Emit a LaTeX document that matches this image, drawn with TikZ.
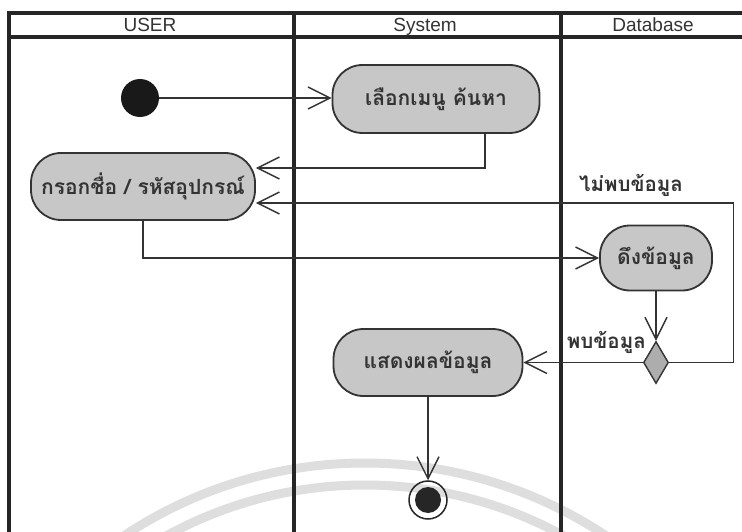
\documentclass[tikz,border=0pt]{standalone}
\usepackage{fontspec}
\setmainfont{Liberation Sans}
\newfontfamily\thaifont[Script=Thai]{Loma}
\usetikzlibrary{arrows.meta,shapes.geometric}

\begin{document}
\begin{tikzpicture}[x=1pt,y=-1pt,
  lane/.style={draw=black!85, line width=3.2pt},
  head/.style={font=\fontsize{19}{21}\selectfont, text=black!80, anchor=base},
  act/.style={draw=black!80, line width=1.8pt, fill=black!22, rounded corners=30pt,
    inner sep=0pt, font=\thaifont\bfseries\fontsize{21}{23}\selectfont, text=black!80},
  lbl/.style={font=\thaifont\bfseries\fontsize{20.5}{22}\selectfont, text=black!80, inner sep=1pt},
  flow/.style={draw=black!80, line width=1.4pt,
    -{Straight Barb[length=22pt,width=22pt,line width=1.4pt]}},
  seal/.style={draw=black!13, line width=9pt}]

\useasboundingbox (0,0) rectangle (742,532);
\fill[white] (0,0) rectangle (742,532);

% faint seal rings printed across the lower part of the page
\begin{scope}
  \clip (0,0) rectangle (742,532);
  \draw[seal] (365,898) circle[radius=435];
  \draw[seal] (365,898) circle[radius=413];
\end{scope}

% swimlane frame
\draw[lane] (742,13) -- (9,13) -- (9,532);
\draw[lane] (9,37) -- (742,37);
\draw[lane] (294,13) -- (294,532);
\draw[lane] (561,13) -- (561,532);
\node[head] (hUser) at (150,32) {USER};
\node[head] (hSys)  at (425,32) {System};
\node[head] (hDb)   at (653,32) {Database};

% activities
\node[circle, fill=black!90, minimum size=38pt, inner sep=0pt] (start) at (140,98) {};
\node[act, minimum width=207pt, minimum height=68pt] (sel) at (436,99) {เลือกเมนู ค้นหา};
\node[act, minimum width=224pt, minimum height=67pt] (inp) at (143,186.5) {กรอกชื่อ / รหัสอุปกรณ์};
\node[act, minimum width=112pt, minimum height=65pt] (fetch) at (656,258) {ดึงข้อมูล};
\node[diamond, draw=black!80, line width=1.4pt, fill=black!32, inner sep=0pt,
      minimum width=25pt, minimum height=42pt] (dec) at (656,362.5) {};
\node[act, minimum width=189pt, minimum height=67pt] (show) at (428,362.5) {แสดงผลข้อมูล};
\node[circle, draw=black!85, line width=1.5pt, minimum size=38pt, inner sep=0pt] (end) at (428,500) {};
\node[circle, fill=black!85, minimum size=26pt, inner sep=0pt] (endDot) at (end) {};

% control flow
\draw[flow] (start) -- (start -| sel.west);
\draw[flow] ([xshift=49pt]sel.south) |- ([yshift=18.5pt]inp.east);
\draw[flow] (dec.east) -- ++(64,0) |- ([yshift=-16.5pt]inp.east);
\draw[flow] (inp.south) |- (fetch.west);
\draw[flow] (fetch.south) -- (dec.north);
\draw[flow] (dec.west) -- (show.east);
\draw[flow] (show.south) -- (end.north);

% guard labels
\node[lbl] (gNo) at (631,185) {ไม่พบข้อมูล};
\node[lbl, anchor=east] (gYes) at (647,342) {พบข้อมูล};
\end{tikzpicture}
\end{document}
